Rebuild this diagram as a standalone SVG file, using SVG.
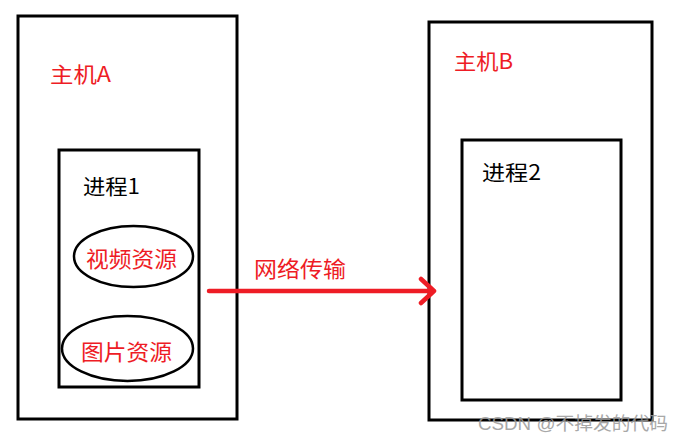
<svg xmlns="http://www.w3.org/2000/svg" width="684" height="441" viewBox="0 0 684 441">
<style>
.box{fill:none;stroke:#000;stroke-width:3}
.ell{fill:none;stroke:#000;stroke-width:2.5}
.red{fill:#ee1c25;font-family:"Noto Sans CJK SC","Liberation Sans",sans-serif}
.blk{fill:#000;font-family:"Noto Sans CJK SC","Liberation Sans",sans-serif}
.wm{fill:#9a9a9a;font-family:"Liberation Sans","Noto Sans CJK SC",sans-serif;font-size:18px;opacity:0.85}
.conn{fill:none;stroke:#ee1c25;stroke-width:4.5;stroke-linecap:round;stroke-linejoin:round}
</style>
<rect width="684" height="441" fill="#fff"/>
<g id="hostA">
<rect class="box" x="18" y="16" width="219" height="403"/>
<text class="red" x="50" y="82" font-size="21" textLength="61" lengthAdjust="spacingAndGlyphs">主机A</text>
</g>
<g id="process1">
<rect class="box" x="59" y="150" width="140" height="237"/>
<text class="blk" x="83" y="194" font-size="21" textLength="57" lengthAdjust="spacingAndGlyphs">进程1</text>
</g>
<g id="video">
<ellipse class="ell" cx="133.5" cy="256.5" rx="59.5" ry="30.5"/>
<text class="red" x="86" y="267" font-size="22" textLength="91" lengthAdjust="spacingAndGlyphs">视频资源</text>
</g>
<g id="image">
<ellipse class="ell" cx="127.5" cy="348.5" rx="65.5" ry="32.5"/>
<text class="red" x="81" y="360" font-size="22" textLength="91" lengthAdjust="spacingAndGlyphs">图片资源</text>
</g>
<g id="hostB">
<rect class="box" x="429" y="22" width="223" height="398"/>
<text class="red" x="454" y="69" font-size="21" textLength="59" lengthAdjust="spacingAndGlyphs">主机B</text>
</g>
<g id="process2">
<rect class="box" x="462" y="140" width="159" height="260"/>
<text class="blk" x="482" y="180" font-size="21" textLength="59" lengthAdjust="spacingAndGlyphs">进程2</text>
</g>
<g id="connectors">
<path class="conn" d="M209,291 H434 M421,279 L434,291 L421,303"/>
<text class="red" x="254" y="277" font-size="22" textLength="92" lengthAdjust="spacingAndGlyphs">网络传输</text>
</g>
<text class="wm" x="478" y="430" textLength="190" lengthAdjust="spacingAndGlyphs">CSDN @不掉发的代码</text>
</svg>
